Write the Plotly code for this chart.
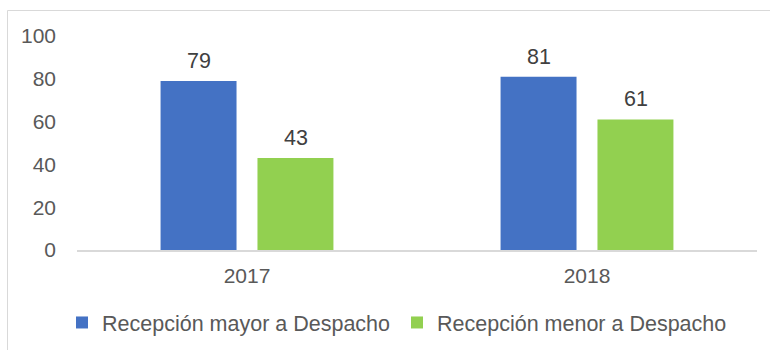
import plotly.graph_objects as go

categories = ["2017", "2018"]
series_names = ["Recepción mayor a Despacho", "Recepción menor a Despacho"]
mayor = [79, 81]
menor = [43, 61]
colors = ["#4472C4", "#92D050"]
y_ticks = [0, 20, 40, 60, 80, 100]

W, H = 770, 350
L, R, T, B = 77, 13, 36, 100
pw, ph = W - L - R, H - T - B

def px_x(px):
    return (px - L) / pw

def px_y(py):
    return (H - B - py) / ph

FONT = "Liberation Sans, Arial, sans-serif"

fig = go.Figure()
for name, vals, col in zip(series_names, [mayor, menor], colors):
    fig.add_trace(go.Bar(
        x=categories, y=vals, name=name, marker=dict(color=col, line=dict(width=0)),
        hoverinfo="skip",
    ))

# data labels (x given as category index)
offsets = [-48.5, 48.5]
for vals, off in zip([mayor, menor], offsets):
    for i, v in enumerate(vals):
        fig.add_annotation(x=i, y=v, text=str(v), showarrow=False, xshift=off,
                           yanchor="bottom", yshift=6,
                           font=dict(family=FONT, size=21.5, color="#404040"))

# chart frame
fig.add_shape(type="rect", xref="paper", yref="paper",
              x0=px_x(7.5), x1=px_x(800), y0=px_y(400), y1=px_y(10.5),
              line=dict(color="#D9D9D9", width=1), fillcolor="rgba(0,0,0,0)", layer="below")

fig.update_layout(
    width=W, height=H,
    margin=dict(l=L, r=R, t=T, b=B, pad=0, autoexpand=False),
    paper_bgcolor="white", plot_bgcolor="white",
    barmode="group", bargap=0.43, bargroupgap=0.216,
    font=dict(family=FONT, size=21, color="#595959"),
    showlegend=True,
    legend=dict(orientation="h", x=px_x(397), xanchor="center",
                yref="container", y=(H - 302) / H, yanchor="top",
                font=dict(family=FONT, size=21.5, color="#595959"),
                entrywidth=290,
                itemclick=False, itemdoubleclick=False, traceorder="normal"),
    xaxis=dict(type="category", range=[-0.5, 1.5], showline=True, linecolor="#D9D9D9",
               linewidth=1.5, showgrid=False,
               ticks="", ticklabelstandoff=6, tickfont=dict(size=21, color="#595959")),
    yaxis=dict(range=[0, 100], tickvals=y_ticks, showgrid=False, zeroline=False,
               showline=False, ticks="", ticklabelstandoff=20,
               tickfont=dict(size=21, color="#595959")),
)

fig.write_html("out.html")
